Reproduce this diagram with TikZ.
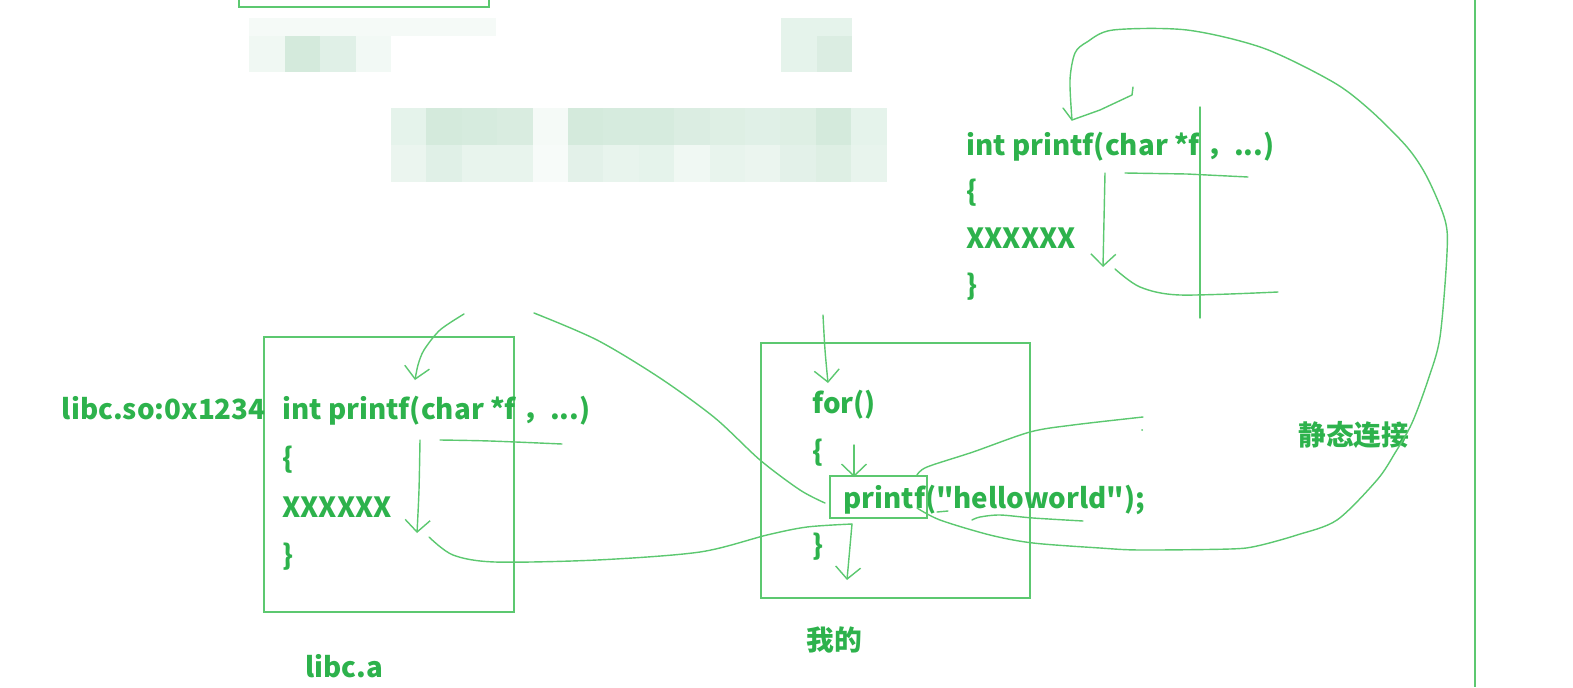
\documentclass[tikz,border=0pt]{standalone}
\usepackage{fontspec}
\setmainfont{Noto Sans CJK SC}[Ligatures=TeXOff]
\usepackage{tikz}
\usetikzlibrary{arrows.meta}
\definecolor{codegreen}{RGB}{45,178,76}
\definecolor{pengreen}{RGB}{92,200,112}
\definecolor{blurgreen}{RGB}{0,130,50}

\begin{document}
\begin{tikzpicture}[
    x=0.02cm, y=-0.02cm,
    codetext/.style={anchor=base west, inner sep=0pt, text=codegreen,
                     font=\fontsize{15.8}{18}\selectfont\bfseries},
    panelbox/.style={draw=pengreen, line width=0.9pt},
    pen/.style={draw=pengreen, line width=0.8pt, line cap=round, line join=round},
    penarrow/.style={pen, -{Straight Barb[length=2.4mm, width=5mm]}}
]
    \useasboundingbox (0,0) rectangle (1573,687);

    % blurred header
    \fill[blurgreen!4] (249,18) rectangle (496,36);
    \foreach \i/\p in {0/6, 1/17, 2/12, 3/5}
        \fill[blurgreen!\p] (249+35.5*\i,36) rectangle (284.5+35.5*\i,72);
    \foreach \i/\p/\q in {0/10/10, 1/10/14}
    {
        \fill[blurgreen!\p] (781+35.5*\i,18) rectangle (816.5+35.5*\i,36);
        \fill[blurgreen!\q] (781+35.5*\i,36) rectangle (816.5+35.5*\i,72);
    }
    \foreach \i/\p/\q in {0/10/8, 1/17/12, 2/16/9, 3/15/9, 4/4/3, 5/17/11, 6/16/9,
                          7/16/10, 8/14/6, 9/13/9, 10/12/8, 11/13/11, 12/17/13, 13/10/9}
    {
        \fill[blurgreen!\p] (391+35.4*\i,108) rectangle (426.4+35.4*\i,145);
        \fill[blurgreen!\q] (391+35.4*\i,145) rectangle (426.4+35.4*\i,182);
    }
    \draw[panelbox] (239,0) -- (239,7) -- (489,7) -- (489,0);
    \draw[panelbox] (1475,0) -- (1475,687);

    % libc.a
    \draw[panelbox] (264,337) rectangle (514,612);
    \node[codetext, anchor=base east] (sotag) at (266,419) {libc.so:0x1234};
    \node[codetext] (libsig) at (282,419) {int printf(char *f ，...)};
    \node[codetext] (libopen) at (282,468) {\{};
    \node[codetext] (libbody) at (282,517) {XXXXXX};
    \node[codetext] (libclose) at (282,565) {\}};
    \node[codetext] (libname) at (305,677) {libc.a};

    % main program
    \draw[panelbox] (761,343) rectangle (1030,598);
    \node[codetext] (loophead) at (812,413) {for()};
    \node[codetext] (loopopen) at (812,461) {\{};
    \node[codetext] (call) at (843,508) {printf("helloworld");};
    \node[codetext] (loopclose) at (812,555) {\}};
    \node[codetext] (mine) at (806,650) {我的};
    \draw[panelbox] (830,476) rectangle (927,518);

    % copied printf
    \node[codetext] (copysig) at (966,155) {int printf(char *f ，...)};
    \node[codetext] (copyopen) at (966,201) {\{};
    \node[codetext] (copybody) at (966,248) {XXXXXX};
    \node[codetext] (copyclose) at (966,295) {\}};
    \node[codetext] (staticlink) at (1298,445) {静态连接};

    % strokes
    \draw[penarrow] plot[smooth] coordinates {(464,314) (440,330) (424,350) (418,365) (415,380)};
    \draw[penarrow] plot[smooth] coordinates {(420,440) (419,490) (417,533)};
    \draw[pen] plot[smooth] coordinates {(440,440) (490,441) (562,444)};
    \draw[pen] plot[smooth] coordinates {(429,537) (453,555) (495,562) (597,560)
        (700,552) (767,535) (807,527) (852,524)};
    \draw[penarrow] (852,524) -- (847,580);
    \draw[pen] plot[smooth] coordinates {(534,313) (597,340) (660,378) (715,418)
        (760,460) (800,490) (825,503)};
    \draw[penarrow] plot[smooth] coordinates {(823,315) (825,350) (828,383)};
    \draw[penarrow] (854,445) -- (854,477);
    \draw[pen] plot[smooth] coordinates {(917,475) (927,467) (973,452) (1030,432)
        (1073,425) (1143,417)};
    \fill[pengreen] (1142,430) circle (1);
    \draw[pen] plot[smooth] coordinates {(972,520) (980,517) (1000,515) (1033,518) (1083,521)};
    \draw[pen] (937,512) -- (948,511);
    \draw[pen] plot[smooth] coordinates {(917,508) (940,520) (990,535) (1033,543)
        (1100,548) (1140,550) (1230,549) (1257,546) (1297,535) (1337,520) (1377,480)
        (1395,453) (1412,423) (1428,380) (1440,337) (1447,253) (1445,220) (1427,177)
        (1407,147) (1370,110) (1333,82) (1263,48) (1187,30) (1113,30) (1087,42)
        (1075,53) (1070,80) (1072,120)};
    \draw[pen] (1063,108) -- (1072,120) -- (1100,110) -- (1132,95) -- (1133,87);
    \draw[penarrow] (1105,173) -- (1103,267);
    \draw[pen] (1125,173) -- (1187,174) -- (1248,177);
    \draw[pen] (1200,107) -- (1200,318);
    \draw[pen] plot[smooth] coordinates {(1115,269) (1140,287) (1180,295) (1278,292)};
\end{tikzpicture}
\end{document}
